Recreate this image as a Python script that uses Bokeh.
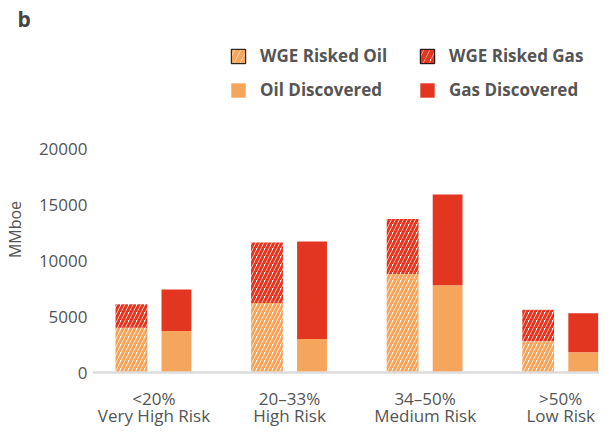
from bokeh.plotting import figure
from bokeh.models import (ColumnDataSource, Legend, LegendItem, FixedTicker,
                          Range1d, Span)
from bokeh.core.properties import value
from bokeh.transform import dodge
from bokeh.embed import file_html
from bokeh.resources import INLINE

# ---- data ----
risk_bands = ["<20%", "20–33%", "34–50%", ">50%"]
risk_names = ["Very High Risk", "High Risk", "Medium Risk", "Low Risk"]
wge_risked_oil = [4000, 6200, 8800, 2800]
wge_risked_gas = [2100, 5400, 4900, 2800]
oil_discovered = [3700, 3000, 7800, 1800]
gas_discovered = [3700, 8700, 8100, 3500]
y_ticks = [0, 5000, 10000, 15000, 20000]

OIL = "#F6A55C"
GAS = "#E33621"
TXT = "#555555"
FONT = "Open Sans"

pos = list(range(1, len(risk_bands) + 1))
src = ColumnDataSource(data=dict(
    x=pos,
    band=risk_bands,
    name=risk_names,
    base=[0] * len(pos),
    r_oil=wge_risked_oil,
    r_tot=[a + b for a, b in zip(wge_risked_oil, wge_risked_gas)],
    d_oil=oil_discovered,
    d_tot=[a + b for a, b in zip(oil_discovered, gas_discovered)],
))

p = figure(frame_width=507, frame_height=394, output_backend="svg",
           toolbar_location=None, x_axis_location=None,
           x_range=Range1d(0.547, 4.286), y_range=Range1d(-4821, 30357),
           min_border_left=86, min_border_right=0, min_border_top=32,
           min_border_bottom=0, title="b")
p.outline_line_color = None
p.xgrid.visible = False
p.ygrid.visible = False
p.background_fill_color = "white"
p.border_fill_color = "white"

p.title.align = "left"
p.title.offset = -75
p.title.standoff = 0
p.title.text_font = FONT
p.title.text_font_style = "bold"
p.title.text_font_size = "21px"
p.title.text_color = "#444444"

off = 0.166
hatch_kw = dict(hatch_pattern="/", hatch_scale=8, hatch_weight=3)
p.vbar(x=dodge("x", -off), bottom="base", top="r_oil", width=0.235, source=src,
       fill_color="white", hatch_color=OIL, line_color=None, **hatch_kw)
p.vbar(x=dodge("x", -off), bottom="r_oil", top="r_tot", width=0.235, source=src,
       fill_color="white", hatch_color=GAS, line_color=None, **hatch_kw)
p.vbar(x=dodge("x", off), bottom="base", top="d_oil", width=0.22, source=src,
       fill_color=OIL, line_color=None)
p.vbar(x=dodge("x", off), bottom="d_oil", top="d_tot", width=0.22, source=src,
       fill_color=GAS, line_color=None)

# baseline (x axis line)
p.add_layout(Span(location=0, dimension="width", line_color="#dddddd", line_width=2.5))

# category labels under the baseline
p.text(x="x", y="base", text="band", source=src, y_offset=26,
       text_align="center", text_baseline="middle", text_font=value(FONT),
       text_font_size="17px", text_color=TXT)
p.text(x="x", y="base", text="name", source=src, y_offset=43,
       text_align="center", text_baseline="middle", text_font=value(FONT),
       text_font_size="17px", text_color=TXT)

# legend-only renderers (no visible data)
nan = float("nan")
def leg_r(**kw):
    s = ColumnDataSource(data=dict(x=[nan], top=[nan]))
    return p.vbar(x="x", top="top", width=0.2, source=s, **kw)

leg_hatch = dict(hatch_pattern="/", hatch_scale=12, hatch_weight=5)
r1 = leg_r(fill_color="white", hatch_color=OIL, line_color="black", line_width=1, **leg_hatch)
r2 = leg_r(fill_color="white", hatch_color=GAS, line_color="black", line_width=1, **leg_hatch)
r3 = leg_r(fill_color=OIL, line_color=None)
r4 = leg_r(fill_color=GAS, line_color=None)

legend = Legend(items=[
    LegendItem(label="WGE Risked Oil", renderers=[r1]),
    LegendItem(label="Oil Discovered", renderers=[r3]),
    LegendItem(label="WGE Risked Gas", renderers=[r2]),
    LegendItem(label="Gas Discovered", renderers=[r4]),
], ncols=2, location=(137, 325), border_line_color=None,
    background_fill_alpha=0, padding=0, margin=0, spacing=11,
    glyph_width=18, glyph_height=18, label_standoff=13,
    label_width=147, label_height=18,
    label_text_font=FONT, label_text_font_style="bold",
    label_text_font_size="17px", label_text_color=TXT)
p.add_layout(legend)

# y axis
p.yaxis.ticker = FixedTicker(ticks=y_ticks)
p.yaxis.axis_line_color = None
p.yaxis.major_tick_line_color = None
p.yaxis.minor_tick_line_color = None
p.yaxis.major_tick_out = 0
p.yaxis.major_tick_in = 0
p.yaxis.major_label_text_font = FONT
p.yaxis.major_label_text_font_size = "17px"
p.yaxis.major_label_text_color = TXT
p.yaxis.major_label_standoff = 5
p.yaxis.axis_label = "MMboe"
p.yaxis.axis_label_text_font = FONT
p.yaxis.axis_label_text_font_style = "normal"
p.yaxis.axis_label_text_font_size = "16px"
p.yaxis.axis_label_text_color = TXT
p.yaxis.axis_label_standoff = 10

open("out.html", "w").write(file_html(p, INLINE))
